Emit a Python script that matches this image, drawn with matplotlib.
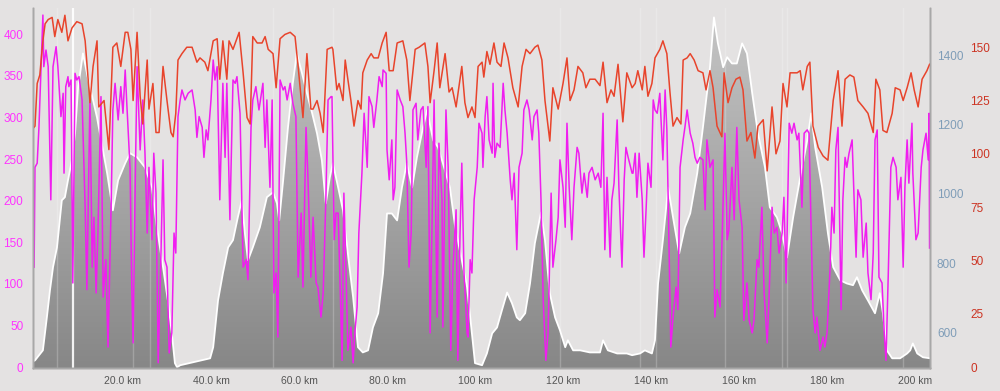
import numpy as np
import matplotlib
matplotlib.use("Agg")
import matplotlib.pyplot as plt
from matplotlib.colors import LinearSegmentedColormap

# --- data ---
elev_km = [-0.5, 0.0, 1.8, 2.7, 3.4, 4.1, 5.0, 6.1, 6.8, 7.5, 8.4, 9.1, 9.8, 10.9, 12.0, 14.1, 16.4, 17.7,
           18.9, 20.5, 21.6, 23.2, 25.0, 26.6, 27.7, 29.1, 30.2, 31.1, 31.8, 32.3, 33.0, 39.8, 40.5, 41.6,
           42.7, 43.9, 45.0, 46.1, 47.0, 47.7, 48.4, 49.5, 51.1, 52.7, 54.1, 55.0, 55.5, 56.4, 57.5, 58.6,
           59.5, 60.7, 61.8, 63.0, 64.1, 65.2, 66.1, 67.0, 67.7, 68.9, 70.0, 71.1, 72.3, 73.4, 74.5, 75.7,
           76.8, 78.0, 79.1, 80.0, 81.1, 82.3, 83.4, 84.5, 85.7, 86.8, 88.2, 89.1, 90.5, 91.6, 92.7, 94.3,
           95.5, 97.0, 98.2, 99.3, 100.0, 101.6, 102.7, 103.9, 105.0, 106.1, 107.3, 108.4, 109.5, 110.2,
           111.4, 112.5, 113.6, 115.0, 115.9, 117.0, 118.2, 119.3, 120.5, 121.1, 122.3, 123.9, 126.1, 128.4,
           129.1, 130.2, 132.3, 134.5, 135.7, 137.5, 138.6, 140.2, 140.9, 141.6, 142.7, 143.9, 145.0, 146.4,
           147.7, 148.9, 150.5, 151.8, 153.4, 154.3, 155.2, 156.4, 157.3, 158.4, 159.5, 160.7, 161.8, 163.0,
           164.3, 165.9, 167.0, 168.6, 169.8, 170.9, 172.3, 173.9, 175.5, 176.4, 177.3, 178.9, 180.2, 181.4,
           183.0, 184.5, 185.9, 186.8, 188.0, 189.3, 190.9, 192.0, 192.7, 193.6, 194.8, 196.6, 198.2, 198.9,
           199.5, 200.5, 201.8, 203.4]
elev_m = [516, 519, 548, 643, 721, 788, 845, 981, 990, 1039, 1097, 1174, 1307, 1405, 1336, 1220, 1059, 952,
          1039, 1088, 1117, 1105, 1076, 1018, 903, 788, 692, 597, 511, 499, 505, 525, 557, 692,
          770, 845, 866, 932, 981, 886, 808, 845, 903, 990, 1004, 972, 923, 1039, 1192, 1319,
          1405, 1347, 1290, 1232, 1174, 1096, 972, 1047, 1088, 1018, 952, 828, 701, 557, 542, 548,
          614, 655, 770, 943, 943, 923, 1018, 1088, 1018, 1105, 1192, 1241, 1154, 1134, 1088, 1018,
          903, 808, 730, 597, 511, 505, 539, 597, 614, 663, 715, 684, 643, 635,
          655, 741, 857, 946, 866, 713, 643, 606, 557, 577, 548, 548, 542, 542,
          577, 548, 539, 539, 534, 539, 548, 539, 577, 741, 866, 1018, 932, 828,
          903, 943, 1059, 1192, 1365, 1509, 1434, 1365, 1394, 1376, 1376, 1434, 1405, 1290,
          1174, 1076, 961, 932, 886, 816, 932, 1047, 1154, 1232, 1134, 1018, 886, 788,
          750, 741, 736, 759, 721, 692, 655, 713, 655, 548, 525, 525, 539, 548,
          568, 539, 528, 525]

hr_km = [-0.4, 0.0, 0.5, 1.1, 1.8, 2.3, 3.0, 3.9, 4.5, 5.2, 6.1, 6.8, 7.5, 8.4, 9.5, 10.7, 11.4, 12.5, 13.2,
         14.1, 14.5, 15.7, 16.8, 17.7, 18.6, 19.5, 20.5, 21.1, 21.8, 22.3, 23.2, 23.9, 24.5, 25.5, 25.9,
         26.8, 27.5, 28.2, 29.1, 30.0, 30.9, 31.4, 32.0, 32.5, 33.4, 34.5, 35.7, 36.8, 37.5, 38.6, 39.3,
         40.5, 41.4, 42.0, 42.7, 43.6, 44.1, 45.0, 46.4, 47.3, 48.2, 48.9, 49.5, 50.5, 51.6, 52.3, 53.0,
         54.1, 54.8, 55.7, 56.8, 58.0, 59.1, 59.8, 60.9, 61.8, 62.7, 63.2, 64.1, 64.8, 65.5, 66.4, 67.5,
         67.7, 68.6, 69.1, 70.0, 70.5, 71.1, 71.8, 72.5, 73.4, 74.1, 74.5, 75.5, 76.4, 77.0, 78.0, 78.9,
         79.8, 80.5, 81.4, 82.3, 83.6, 84.5, 85.2, 86.4, 87.3, 88.6, 89.3, 89.8, 90.7, 91.4, 92.0, 93.2,
         94.1, 94.8, 95.7, 97.0, 97.7, 98.4, 99.3, 100.0, 100.7, 101.6, 102.0, 102.7, 103.4, 104.3, 105.0,
         105.9, 106.6, 107.5, 108.6, 109.8, 110.7, 111.6, 112.5, 113.6, 114.3, 115.2, 115.9, 117.0, 117.7,
         118.9, 120.0, 120.9, 121.6, 122.5, 123.4, 124.5, 125.2, 126.1, 127.3, 128.4, 129.1, 130.0, 130.9,
         131.6, 132.5, 133.6, 134.5, 135.7, 136.4, 137.0, 138.0, 138.6, 139.3, 140.2, 140.9, 142.0, 142.7,
         143.6, 144.3, 145.0, 145.9, 146.8, 147.3, 148.2, 148.9, 149.8, 150.7, 151.8, 152.5, 153.4, 154.1,
         155.0, 156.1, 156.6, 157.5, 158.4, 159.3, 160.2, 160.9, 161.8, 162.7, 163.6, 164.3, 165.5, 166.4,
         167.5, 168.4, 169.3, 170.0, 170.9, 171.6, 172.3, 173.2, 173.9, 174.5, 175.5, 176.1, 176.8, 178.0,
         179.1, 180.2, 181.4, 182.5, 183.4, 184.1, 185.2, 186.1, 187.0, 188.2, 189.3, 190.5, 191.1, 192.0,
         192.7, 193.6, 194.8, 195.5, 196.6, 197.3, 198.2, 199.1, 199.8, 200.7, 201.6, 202.7, 203.3]
hr_bpm = [112, 113, 133, 137, 153, 161, 163, 164, 155, 163, 157, 165, 153, 159, 162, 161, 153, 124, 141,
          153, 122, 125, 102, 150, 152, 141, 157, 157, 149, 125, 157, 127, 114, 144, 121,
          133, 110, 110, 141, 125, 110, 108, 119, 144, 147, 150, 150, 143, 145, 143, 139,
          153, 154, 135, 153, 135, 153, 149, 157, 138, 117, 114, 155, 152, 152, 155, 149,
          147, 131, 154, 156, 157, 155, 141, 117, 147, 121, 121, 125, 119, 110, 149, 150,
          149, 130, 133, 125, 144, 135, 125, 113, 125, 121, 138, 144, 147, 145, 145, 152,
          157, 139, 139, 152, 153, 144, 125, 149, 150, 152, 141, 124, 139, 152, 131, 147,
          129, 131, 122, 141, 124, 117, 122, 117, 141, 143, 136, 148, 142, 152, 143,
          141, 152, 145, 131, 122, 141, 149, 147, 150, 151, 144, 125, 106, 131,
          121, 133, 145, 125, 130, 141, 138, 131, 135, 135, 132, 143, 124, 130,
          127, 142, 115, 138, 131, 133, 139, 130, 141, 127, 133, 145, 149, 153,
          147, 129, 113, 117, 114, 144, 145, 147, 144, 139, 138, 130, 139, 131,
          113, 108, 138, 124, 131, 135, 136, 130, 106, 110, 98, 113, 116, 92,
          122, 100, 106, 133, 122, 138, 138, 138, 139, 130, 141, 143, 113, 103,
          99, 97, 125, 139, 113, 135, 137, 136, 125, 122, 119, 110, 135, 130,
          111, 110, 119, 131, 130, 125, 131, 138, 130, 122, 135, 139, 142]

pw_km = [-0.2, 0.0, 0.5, 0.9, 1.8, 2.0, 2.5, 3.0, 3.6, 4.1, 4.8, 5.2, 5.9, 6.4, 6.6, 7.0, 7.5, 7.7, 8.2, 8.6,
         9.1, 9.5, 10.0, 10.7, 11.4, 11.8, 12.5, 13.0, 13.4, 13.9, 14.3, 15.0, 15.5, 16.1, 16.6, 17.3, 17.7,
         18.2, 18.9, 19.5, 20.0, 20.5, 20.9, 21.6, 22.0, 22.3, 22.7, 23.2, 23.9, 24.5, 25.0, 25.5, 25.9,
         26.6, 27.0, 27.5, 28.0, 28.6, 29.1, 29.5, 30.0, 30.5, 31.1, 31.6, 32.0, 32.5, 33.0, 33.4, 34.1,
         34.8, 35.7, 36.4, 36.8, 37.3, 38.0, 38.4, 38.9, 39.3, 40.0, 40.5, 40.9, 41.4, 42.0, 42.7, 43.2,
         43.6, 44.3, 45.0, 45.5, 45.9, 46.6, 47.3, 48.0, 48.4, 49.1, 49.5, 50.2, 50.9, 51.8, 52.3, 52.7,
         53.4, 53.9, 54.3, 54.8, 55.2, 55.7, 56.4, 56.8, 57.3, 58.0, 58.6, 59.3, 59.8, 60.5, 60.9, 61.6,
         62.0, 62.7, 63.2, 63.9, 64.3, 65.0, 65.5, 66.1, 66.6, 67.3, 67.5, 68.0, 68.4, 68.9, 69.8, 70.2,
         70.7, 71.1, 71.8, 72.3, 72.7, 73.2, 73.6, 74.3, 74.8, 75.5, 75.9, 76.6, 77.0, 77.7, 78.2, 78.9,
         79.1, 79.8, 80.0, 80.5, 81.1, 81.4, 81.8, 82.3, 83.0, 83.6, 84.1, 84.5, 85.0, 85.5, 85.9, 86.6,
         87.0, 87.7, 88.2, 88.9, 89.3, 89.8, 90.2, 90.7, 91.4, 91.8, 92.5, 92.7, 93.4, 93.9, 94.5, 95.0,
         95.7, 96.1, 96.6, 97.0, 97.5, 98.2, 98.4, 98.9, 99.3, 99.8, 100.5, 100.9, 101.6, 101.8, 102.3,
         102.7, 103.2, 103.9, 104.1, 104.5, 105.0, 105.7, 106.4, 106.8, 107.3, 108.0, 108.4, 108.9, 109.5,
         110.0, 110.7, 111.1, 111.8, 112.3, 113.0, 113.4, 114.1, 114.5, 115.0, 115.5, 116.1, 116.6, 117.3,
         117.7, 118.4, 118.9, 119.3, 120.0, 120.5, 120.9, 121.4, 122.0, 122.5, 123.2, 123.6, 124.3, 124.8,
         125.5, 125.9, 126.6, 127.3, 128.0, 128.6, 129.1, 129.5, 130.0, 130.7, 131.1, 131.6, 132.3, 132.7,
         133.4, 133.9, 134.3, 134.8, 135.7, 135.9, 136.4, 136.8, 137.3, 138.0, 138.4, 138.9, 139.3, 140.0,
         140.5, 140.9, 141.4, 142.0, 142.7, 143.2, 143.6, 143.9, 144.5, 145.0, 145.7, 146.1, 146.6, 147.3,
         147.7, 148.2, 148.9, 149.5, 150.0, 150.5, 151.1, 151.8, 152.3, 152.7, 153.4, 154.1, 154.5, 155.0,
         155.7, 156.4, 156.8, 157.3, 157.7, 158.4, 158.9, 159.5, 160.0, 160.7, 161.1, 161.8, 162.3, 163.0,
         163.4, 164.1, 164.5, 165.2, 165.7, 166.4, 166.8, 167.5, 168.0, 168.6, 169.1, 169.8, 170.2, 170.7,
         170.9, 171.4, 172.0, 172.5, 173.2, 173.6, 174.3, 174.8, 175.5, 175.9, 176.4, 176.8, 177.3, 177.7,
         178.4, 179.1, 179.5, 180.0, 180.7, 181.1, 181.6, 182.0, 182.5, 183.2, 183.6, 184.1, 184.5, 185.0,
         185.7, 186.1, 186.6, 187.0, 187.7, 188.2, 188.9, 189.3, 190.0, 190.5, 190.9, 191.4, 191.8, 192.5,
         193.0, 193.4, 193.9, 194.5, 195.0, 195.7, 196.1, 196.8, 197.3, 197.7, 198.2, 198.6, 199.3, 199.5,
         200.2, 200.7, 201.4, 201.8, 202.5, 203.0, 203.2, 203.3]
pw_w = [120, 240, 245, 288, 423, 361, 381, 361, 201, 361, 385, 361, 301, 329, 233, 337, 349, 337, 345, 101,
        353, 345, 349, 321, 192, 93, 325, 120, 180, 89, 161, 325, 84, 129, 24, 192, 309,
        341, 297, 337, 305, 357, 313, 240, 96, 29, 192, 361, 261, 321, 257, 161, 240,
        153, 257, 209, 5, 129, 249, 129, 120, 17, 41, 161, 137, 301, 321, 333, 321,
        329, 333, 309, 276, 301, 288, 252, 285, 273, 321, 369, 345, 361, 201, 341, 252,
        341, 177, 345, 341, 349, 305, 120, 129, 105, 288, 321, 337, 309, 341, 264, 321,
        216, 321, 89, 113, 36, 345, 333, 337, 321, 341, 317, 301, 108, 185, 96, 288,
        233, 108, 180, 101, 96, 60, 89, 201, 321, 325, 325, 153, 185, 185, 8, 209,
        113, 20, 48, 5, 41, 72, 161, 233, 305, 240, 325, 313, 288, 321, 349, 337,
        357, 353, 261, 225, 273, 201, 216, 333, 321, 313, 281, 245, 120, 161, 309, 317,
        273, 309, 313, 240, 313, 41, 161, 321, 60, 269, 201, 48, 309, 240, 20, 120,
        189, 8, 161, 245, 113, 41, 36, 129, 113, 201, 240, 293, 281, 240, 301,
        325, 273, 257, 341, 252, 269, 264, 341, 309, 281, 225, 201, 233, 141,
        240, 257, 309, 321, 309, 273, 301, 309, 281, 201, 81, 8, 41, 209,
        120, 153, 180, 249, 216, 168, 293, 216, 153, 216, 264, 257, 209, 233,
        204, 233, 240, 225, 233, 216, 305, 141, 228, 132, 201, 221, 297, 216,
        120, 225, 264, 252, 233, 233, 257, 204, 257, 201, 132, 192, 245, 216,
        321, 309, 305, 329, 249, 333, 285, 201, 24, 60, 96, 69, 240, 273,
        288, 309, 281, 269, 252, 245, 252, 249, 189, 273, 240, 249, 60, 93,
        72, 201, 281, 153, 165, 240, 177, 288, 201, 168, 56, 101, 56, 41,
        56, 129, 120, 192, 89, 29, 81, 192, 161, 168, 137, 161, 204, 101,
        153, 293, 281, 293, 273, 281, 192, 281, 285, 281, 161, 69, 41, 60,
        20, 36, 24, 41, 120, 192, 161, 261, 288, 69, 201, 252, 240, 257,
        273, 209, 132, 213, 201, 132, 173, 113, 81, 137, 273, 285, 108, 101,
        41, 8, 108, 240, 252, 240, 201, 228, 120, 216, 273, 221, 293, 233,
        153, 161, 240, 261, 281, 249, 305, 143]

lap_km = [5.0, 22.3, 26.1, 54.1, 67.7, 119.3, 137.5, 141.1, 156.8, 169.8, 170.9, 197.3]
main_lap_km = 8.7

km_ticks = [20, 40, 60, 80, 100, 120, 140, 160, 180, 200]
km_labels = ["20.0 km", "40.0 km", "60.0 km", "80.0 km", "100 km", "120 km", "140 km", "160 km", "180 km", "200 km"]
pw_ticks = [0, 50, 100, 150, 200, 250, 300, 350, 400]
elev_ticks = [600, 800, 1000, 1200, 1400]
hr_ticks = [0, 25, 50, 75, 100, 125, 150]

bg = "#e4e2e2"
xlim = (-0.45, 203.4)
elev_lim = (497, 1536)

plt.rcParams['font.family'] = ['Liberation Sans', 'DejaVu Sans']
fig = plt.figure(figsize=(10, 3.91), dpi=100, facecolor=bg)
ax_e = fig.add_axes([0.033, 0.0588, 0.897, 0.9207])
ax_e.set_facecolor(bg)

# elevation: gradient clipped to the profile
fill = ax_e.fill_between(elev_km, elev_m, 0, facecolor="none", edgecolor="none")
grad = np.linspace(0, 1, 256).reshape(-1, 1)
cmap = LinearSegmentedColormap.from_list("elev", ["#878787", "#c6c6c6"])
im = ax_e.imshow(grad, extent=[xlim[0], xlim[1], elev_lim[0], elev_lim[1]], origin="lower",
                 cmap=cmap, aspect="auto", zorder=1)
im.set_clip_path(fill.get_paths()[0], transform=ax_e.transData)
ax_e.plot(elev_km, elev_m, color="white", lw=1.3, zorder=2)
for k in lap_km:
    ax_e.axvline(k, color="white", lw=1, alpha=0.22, zorder=2)
ax_e.axvline(main_lap_km, color="white", lw=1.6, alpha=0.9, zorder=2)
ax_e.set_xlim(*xlim)
ax_e.set_ylim(*elev_lim)

# power on the left
ax_p = ax_e.twinx()
ax_p.plot(pw_km, pw_w, color="#f01ef0", lw=1.1)
ax_p.set_ylim(-1.2, 431.5)
ax_p.yaxis.tick_left()

# heart rate, far right
ax_h = ax_e.twinx()
ax_h.plot(hr_km, hr_bpm, color="#e8442c", lw=1.1)
ax_h.set_ylim(-0.47, 168.4)

ax_e.yaxis.tick_right()
ax_e.set_yticks(elev_ticks)
ax_e.tick_params(axis="y", length=0, pad=5, labelsize=8.5, labelcolor="#7f9db8")
ax_p.set_yticks(pw_ticks)
ax_p.tick_params(axis="y", length=0, pad=7, labelsize=8.5, labelcolor="#ff33ff")
ax_h.set_yticks(hr_ticks)
ax_h.tick_params(axis="y", length=0, pad=29, labelsize=8.5, labelcolor="#cc3322")
ax_e.set_xticks(km_ticks)
ax_e.set_xticklabels(km_labels)
ax_e.tick_params(axis="x", length=0, pad=6, labelsize=7.5, labelcolor="#555555")

for a in (ax_e, ax_p, ax_h):
    a.spines["top"].set_visible(False)
    for side in ("left", "right", "bottom"):
        a.spines[side].set_color("#a8a8a8")
        a.spines[side].set_linewidth(1)

fig.savefig("out.png", dpi=100, facecolor=bg)
